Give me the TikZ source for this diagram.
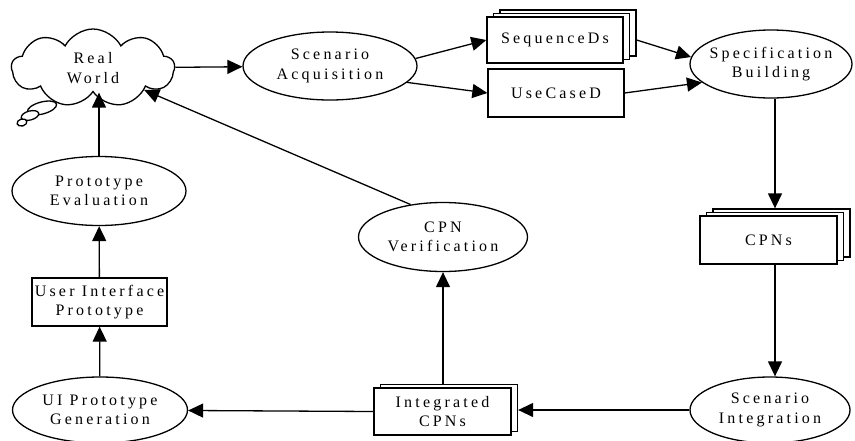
\documentclass[tikz,border=0pt]{standalone}
\usepackage{fontspec}
\setmainfont{Liberation Serif}[LetterSpace=20]
\usetikzlibrary{arrows.meta,shapes.geometric,shapes.symbols}
\tikzset{
  >={Triangle[length=15pt,width=14pt]},
  every node/.append style={font=\fontsize{16}{19.5}\selectfont},
  proc/.style={ellipse,draw,line width=1.3pt,inner sep=0pt,fill=white},
  lbl/.style={align=center,inner sep=0pt},
  doc/.style={rectangle,draw,line width=1.3pt,fill=white,inner sep=1pt,align=center},
  flow/.style={->,draw,line width=1.3pt},
}

\begin{document}
\begin{tikzpicture}[x=1pt,y=-1pt]
  \useasboundingbox (0,0) rectangle (855,440);

  \node[cloud, draw, line width=1.3pt, cloud puffs=9, cloud puff arc=125, aspect=2,
        minimum width=163pt, minimum height=78pt, inner sep=0pt, align=center] (real) at (93,68) {Real\\World};
  \draw[line width=1.3pt, fill=white, rotate around={15:(42,108)}] (42,108) ellipse (15 and 6);
  \draw[line width=1.3pt, fill=white, rotate around={15:(30,115.5)}] (30,115.5) ellipse (9 and 4.5);
  \draw[line width=1.3pt, fill=white, rotate around={15:(22,122.5)}] (22,122.5) ellipse (5 and 3.5);

  \node[proc, minimum width=174pt, minimum height=68pt, label={[lbl]center:Scenario\\Acquisition}] (scen) at (330,66) {};

  \node[doc, minimum width=136pt, minimum height=46pt] (seq3) at (568,33) {};
  \node[doc, minimum width=136pt, minimum height=46pt] (seq2) at (561.5,36.5) {};
  \node[doc, minimum width=136pt, minimum height=46pt] (seq) at (555,40) {SequenceDs};
  \node[doc, minimum width=136pt, minimum height=48pt] (usecase) at (556,93) {UseCaseD};

  \node[proc, minimum width=162pt, minimum height=68pt, label={[lbl]center:Specification\\Building}] (spec) at (771,64) {};

  \node[doc, minimum width=137pt, minimum height=48pt] (cpns3) at (781.5,233) {};
  \node[doc, minimum width=137pt, minimum height=48pt] (cpns2) at (775,236.5) {};
  \node[doc, minimum width=137pt, minimum height=48pt] (cpns) at (768.5,240) {CPNs};

  \node[proc, minimum width=160pt, minimum height=66pt, label={[lbl]center:Scenario\\Integration}] (scenint) at (770,410) {};

  \node[doc, minimum width=137pt, minimum height=47pt] (integ2) at (449,408) {};
  \node[doc, minimum width=137pt, minimum height=47pt] (integ) at (442.5,411.5) {Integrated\\CPNs};

  \node[proc, minimum width=169pt, minimum height=69pt, label={[lbl]center:CPN\\Verification}] (cpnver) at (443,237) {};

  \node[proc, minimum width=175pt, minimum height=66pt, label={[lbl]center:UI Prototype\\Generation}] (uigen) at (100,410) {};
  \node[doc, minimum width=135pt, minimum height=48pt] (uiproto) at (99.5,302) {User Interface\\Prototype};
  \node[proc, minimum width=174pt, minimum height=69pt, label={[lbl]center:Prototype\\Evaluation}] (proteval) at (99,191) {};

  \draw[flow] (real) -- (scen);
  \draw[flow] (scen.5) -- (seq.west);
  \draw[flow] (scen.-12) -- (usecase.west);
  \draw[flow] (seq.east -| seq3.east) -- (spec.175);
  \draw[flow] (usecase.east) -- (spec.195);
  \draw[flow] (spec.south -| cpns2) -- (cpns2 |- cpns3.north);
  \draw[flow] (cpns2 |- cpns.south) -- (cpns2 |- scenint.north);
  \draw[flow] (scenint.west) -- (scenint.west -| integ2.east);
  \draw[flow] (integ2.north -| cpnver) -- (cpnver.south);
  \draw[flow] (cpnver.135) -- (real);
  \draw[flow] (integ.west) -- (uigen);
  \draw[flow] (uigen) -- (uiproto);
  \draw[flow] (uiproto) -- (proteval);
  \draw[flow] (proteval.north) -- (real.south -| proteval.north);
\end{tikzpicture}
\end{document}
